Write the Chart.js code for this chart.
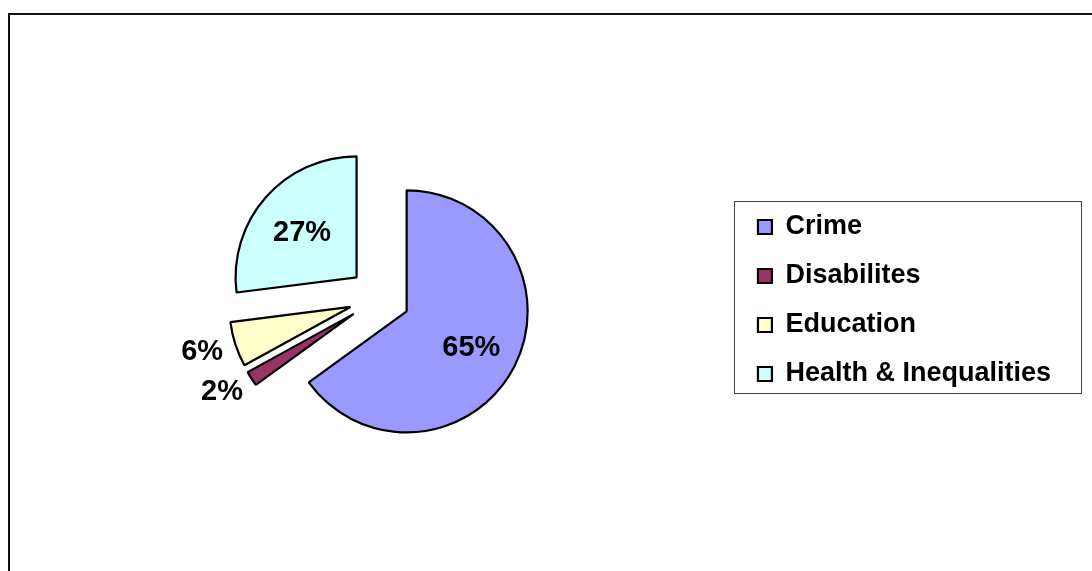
<!DOCTYPE html>
<html>
<head>
<meta charset="utf-8">
<script src="https://cdn.jsdelivr.net/npm/chart.js@4/dist/chart.umd.min.js"></script>
<style>
html,body{margin:0;padding:0;background:#fff;overflow:hidden}
#wrap{position:relative;width:1092px;height:571px}
#frame{position:absolute;left:8px;top:13px;width:1200px;height:700px;border-top:2px solid #111;border-left:2px solid #111;pointer-events:none}
canvas{position:absolute;left:0;top:0}
</style>
</head>
<body>
<div id="wrap">
  <canvas id="pieChart" width="1092" height="571"></canvas>
  <div id="frame"></div>
</div>
<script>
// values (percent of total)
const categories=['Crime','Disabilites','Education','Health & Inequalities'];
const shares=[65,2,6,27];
const sliceColors=['#9999FF','#993366','#FFFFCC','#CCFFFF'];

const FONT='"Liberation Sans", Arial, Helvetica, sans-serif';

// pull every slice away from the centre along its middle angle (like an exploded Excel pie)
const explodePlugin={
  id:'explode',
  afterDatasetUpdate(chart,args,opts){
    args.meta.data.forEach(arc=>{
      const mid=(arc.startAngle+arc.endAngle)/2;
      arc.x+=Math.cos(mid)*opts.distance;
      arc.y+=Math.sin(mid)*opts.distance;
    });
  }
};

// percent labels: big slices inside, small ones outside the rim
const pctLabelPlugin={
  id:'pctLabels',
  afterDatasetsDraw(chart){
    const ctx=chart.ctx; const meta=chart.getDatasetMeta(0);
    const vals=chart.data.datasets[0].data; const total=vals.reduce((s,v)=>s+v,0);
    ctx.save();
    ctx.font='bold 29px '+FONT; ctx.fillStyle='#000'; ctx.textAlign='center'; ctx.textBaseline='middle';
    meta.data.forEach((arc,i)=>{
      const txt=Math.round(vals[i]/total*100)+'%';
      const mid=(arc.startAngle+arc.endAngle)/2; const c=Math.cos(mid), s=Math.sin(mid);
      let x,y;
      if(vals[i]/total>=0.1){
        x=arc.x+c*arc.outerRadius*0.6; y=arc.y+s*arc.outerRadius*0.6+4;
      }else{
        const w=ctx.measureText(txt).width, h=21, r=arc.outerRadius+14;
        x=arc.x+c*r+c*w/2; y=arc.y+s*r+s*h/2;
      }
      ctx.fillText(txt,x,y);
    });
    ctx.restore();
  }
};

// thin box round the legend entries
const legendBoxPlugin={
  id:'legendBox',
  afterDraw(chart){
    const boxes=chart.legend&&chart.legend.legendHitBoxes; if(!boxes||!boxes.length)return;
    const l=Math.min(...boxes.map(b=>b.left)), t=Math.min(...boxes.map(b=>b.top));
    const r=Math.max(...boxes.map(b=>b.left+b.width)), btm=Math.max(...boxes.map(b=>b.top+b.height));
    const ctx=chart.ctx; ctx.save(); ctx.strokeStyle='#444'; ctx.lineWidth=1;
    ctx.strokeRect(Math.round(l-24)+0.5,Math.round(t-13)+0.5,Math.round(r-l+54),Math.round(btm-t+18));
    ctx.restore();
  }
};

window.addEventListener('DOMContentLoaded',()=>{
  const ctx=document.getElementById('pieChart').getContext('2d');
  new Chart(ctx,{
    type:'pie',
    data:{labels:categories,datasets:[{data:shares,backgroundColor:sliceColors,borderColor:'#000',borderWidth:2.2,hoverOffset:0}]},
    options:{
      responsive:false,animation:false,radius:121,
      layout:{padding:{left:23,right:31,top:27,bottom:3}},
      plugins:{
        explode:{distance:30.5},
        tooltip:{enabled:false},
        legend:{position:'right',
          title:{display:true,text:' ',padding:0,font:{size:5}},
          labels:{color:'#000',boxWidth:14,boxHeight:14,padding:22,font:{family:FONT,size:27,weight:'bold'}}}
      }
    },
    plugins:[explodePlugin,pctLabelPlugin,legendBoxPlugin]
  });
});
</script>
</body>
</html>
